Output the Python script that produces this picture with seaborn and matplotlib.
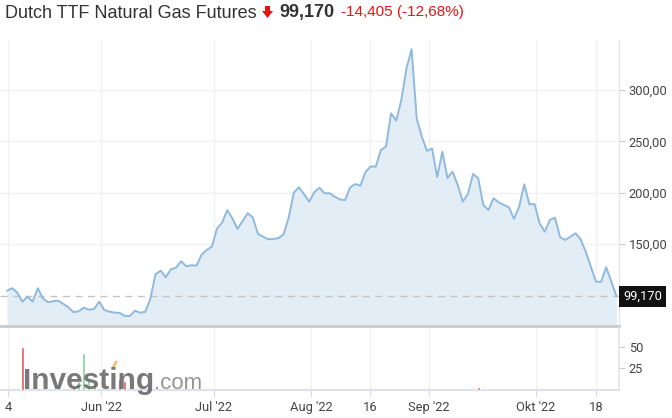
import numpy as np
import pandas as pd
import seaborn as sns
import matplotlib.pyplot as plt
from matplotlib.patches import Polygon
import matplotlib.transforms as mtransforms

# ---------------- data ----------------
prices = [104.5, 106.9, 102.6, 93.8, 98.7, 93.8, 106.9, 97.1, 93.2, 94.2,
          94.8, 91.6, 88.3, 83.5, 84.5, 88.0, 86.0, 86.7, 93.8, 85.7,
          84.1, 83.1, 82.8, 79.9, 79.9, 85.0, 83.1, 83.8, 96.9, 120.6,
          124.0, 117.6, 125.4, 126.9, 133.2, 128.3, 129.3, 128.9, 139.6, 144.2,
          147.4, 164.9, 170.8, 183.1, 175.0, 164.6, 172.4, 179.9, 175.8, 159.9,
          157.1, 154.6, 154.9, 155.6, 159.5, 175.6, 200.0, 205.2, 198.4, 191.2,
          200.4, 204.8, 199.4, 199.4, 196.1, 193.5, 192.6, 205.2, 208.4, 206.8,
          220.1, 225.5, 225.3, 241.6, 244.8, 277.3, 270.1, 290.3, 321.1, 339.6,
          272.4, 254.5, 240.6, 243.0, 215.3, 239.9, 214.3, 220.4, 207.5, 191.2,
          198.7, 218.2, 214.0, 188.0, 183.1, 194.5, 190.6, 188.0, 185.8, 174.4,
          186.3, 208.2, 188.5, 189.0, 170.2, 162.0, 173.4, 175.6, 156.5, 153.9,
          157.1, 160.4, 154.6, 142.5, 127.9, 113.3, 113.0, 127.3, 113.3, 99.17]

vol_pos = [3, 10, 13, 14, 15, 16, 17, 22, 23, 92]
vol_vals = [50, 5, 5, 10, 43, 12, 10, 13, 11, 3]
vol_dir = ['down', 'up', 'down', 'up', 'up', 'up', 'up', 'down', 'down', 'down']

tick_pos = [0.2, 18.4, 40.4, 59.4, 70.9, 82.4, 103.3, 115.0]
tick_labels = ['4', "Jun '22", "Jul '22", "Aug '22", '16', "Sep '22", "Okt '22", '18']
price_ticks = [150, 200, 250, 300]
price_tick_labels = ['150,00', '200,00', '250,00', '300,00']
vol_ticks = [25, 50]
vol_tick_labels = ['25', '50']

last_price = 99.170
last_label = '99,170'
title = 'Dutch TTF Natural Gas Futures'
change_text = '-14,405 (-12,68%)'

# ---------------- style ----------------
sns.set_theme(style='white')
plt.rcParams['font.family'] = ['Roboto', 'DejaVu Sans']

W, H = 672, 418
fig = plt.figure(figsize=(W / 100, H / 100), dpi=100)
fig.patch.set_facecolor('white')


def rect(x0, y0, x1, y1):
    return [x0 / W, 1 - y1 / H, (x1 - x0) / W, (y1 - y0) / H]


ax = fig.add_axes(rect(0, 40, 619, 326))
axv = fig.add_axes(rect(0, 328, 619, 390))

xlim = (-1.37, 119.5)
tick_color = '#444444'

# ---------------- price panel ----------------
df = pd.DataFrame({'i': np.arange(len(prices)), 'price': prices})
ax.fill_between(df['i'], df['price'], 0, color='#e3edf6', lw=0, zorder=1)
sns.lineplot(data=df, x='i', y='price', ax=ax, color='#8fbade', lw=1.4, zorder=3)
ax.axhline(last_price, color='#c4c4c4', ls=(0, (5, 4)), lw=1, zorder=2)

ax.set_xlim(*xlim)
ax.set_ylim(70.1, 348.7)
ax.yaxis.tick_right()
ax.set_yticks(price_ticks, price_tick_labels)
ax.set_xticks(tick_pos)
ax.tick_params(axis='x', length=0, labelbottom=False)
ax.tick_params(axis='y', length=4, width=0.8, color='#cccccc', labelsize=9.3,
               labelcolor=tick_color, pad=3, right=True)
ax.grid(True, color='#f1f1f1', lw=1)
ax.set_axisbelow(True)
for s in ['top', 'left']:
    ax.spines[s].set_visible(False)
ax.spines['right'].set_color('#e6e6e6')
ax.spines['right'].set_linewidth(1)
ax.spines['bottom'].set_color('#cacaca')
ax.spines['bottom'].set_linewidth(2)
ax.set_xlabel('')
ax.set_ylabel('')

trans = mtransforms.blended_transform_factory(ax.transAxes, ax.transData)
ax.text(1 + 4 / 619, last_price, last_label, transform=trans, ha='left', va='center',
        color='white', fontsize=9.3, clip_on=False, zorder=10,
        bbox=dict(boxstyle='square,pad=0.3', fc='#111111', ec='none'))

# ---------------- volume panel ----------------
vdf = pd.DataFrame({'pos': vol_pos, 'vol': vol_vals, 'dir': vol_dir})
sns.barplot(data=vdf, x='pos', y='vol', hue='dir',
            palette={'down': '#e05a5d', 'up': '#7fd49b'}, saturation=1,
            native_scale=True, width=0.6, dodge=False, legend=False,
            errorbar=None, ax=axv, zorder=3)
axv.set_xlim(*xlim)
axv.set_ylim(0, 72)
axv.yaxis.tick_right()
axv.set_yticks(vol_ticks, vol_tick_labels)
axv.set_xticks(tick_pos, tick_labels)
axv.tick_params(axis='x', length=5, width=0.8, color='#d5dbe6', labelsize=9.3,
                labelcolor=tick_color, pad=3, bottom=True)
axv.tick_params(axis='y', length=4, width=0.8, color='#cccccc', labelsize=9.3,
                labelcolor=tick_color, pad=3, right=True)
axv.grid(True, axis='x', color='#f1f1f1', lw=1)
axv.set_axisbelow(True)
for s in ['top', 'left']:
    axv.spines[s].set_visible(False)
axv.spines['right'].set_color('#e6e6e6')
axv.spines['bottom'].set_color('#dde3ee')
axv.spines['bottom'].set_linewidth(1.5)
axv.set_xlabel('')
axv.set_ylabel('')

# watermark
fig.text(23 / W, 1 - 389 / H, 'Investing', fontsize=21.5, fontweight='bold',
         color='#6a6a6a', alpha=0.9, va='baseline', ha='left',
         family=['Liberation Sans', 'DejaVu Sans'], zorder=5)
fig.text(154 / W, 1 - 389 / H, '.com', fontsize=16, color='#8a8a8a', alpha=0.9,
         va='baseline', ha='left', family=['Liberation Sans', 'DejaVu Sans'], zorder=5)
fig.patches.append(Polygon([[112 / W, 1 - 367 / H], [115 / W, 1 - 361 / H],
                            [118 / W, 1 - 361 / H], [115 / W, 1 - 367 / H]],
                           closed=True, transform=fig.transFigure, fc='#f7b04a',
                           ec='none', alpha=0.8))

# ---------------- header ----------------
fig.text(5 / W, 1 - 13 / H, title, fontsize=13, color='#333333', va='center', ha='left',
         family=['Liberation Sans', 'DejaVu Sans'])
arrow = [[265, 6], [270, 6], [270, 11], [273, 11], [267.5, 18], [262, 11], [265, 11]]
fig.patches.append(Polygon([[x / W, 1 - y / H] for x, y in arrow], closed=True,
                           transform=fig.transFigure, fc='#e8120c', ec='none'))
fig.text(279 / W, 1 - 13 / H, last_label, fontsize=13, fontweight='bold', color='#333333',
         va='center', ha='left', family=['Liberation Sans', 'DejaVu Sans'])
fig.text(341 / W, 1 - 12 / H, change_text, fontsize=11, color='#ee1111',
         va='center', ha='left', family=['Liberation Sans', 'DejaVu Sans'])

fig.savefig('out.png', dpi=100)
